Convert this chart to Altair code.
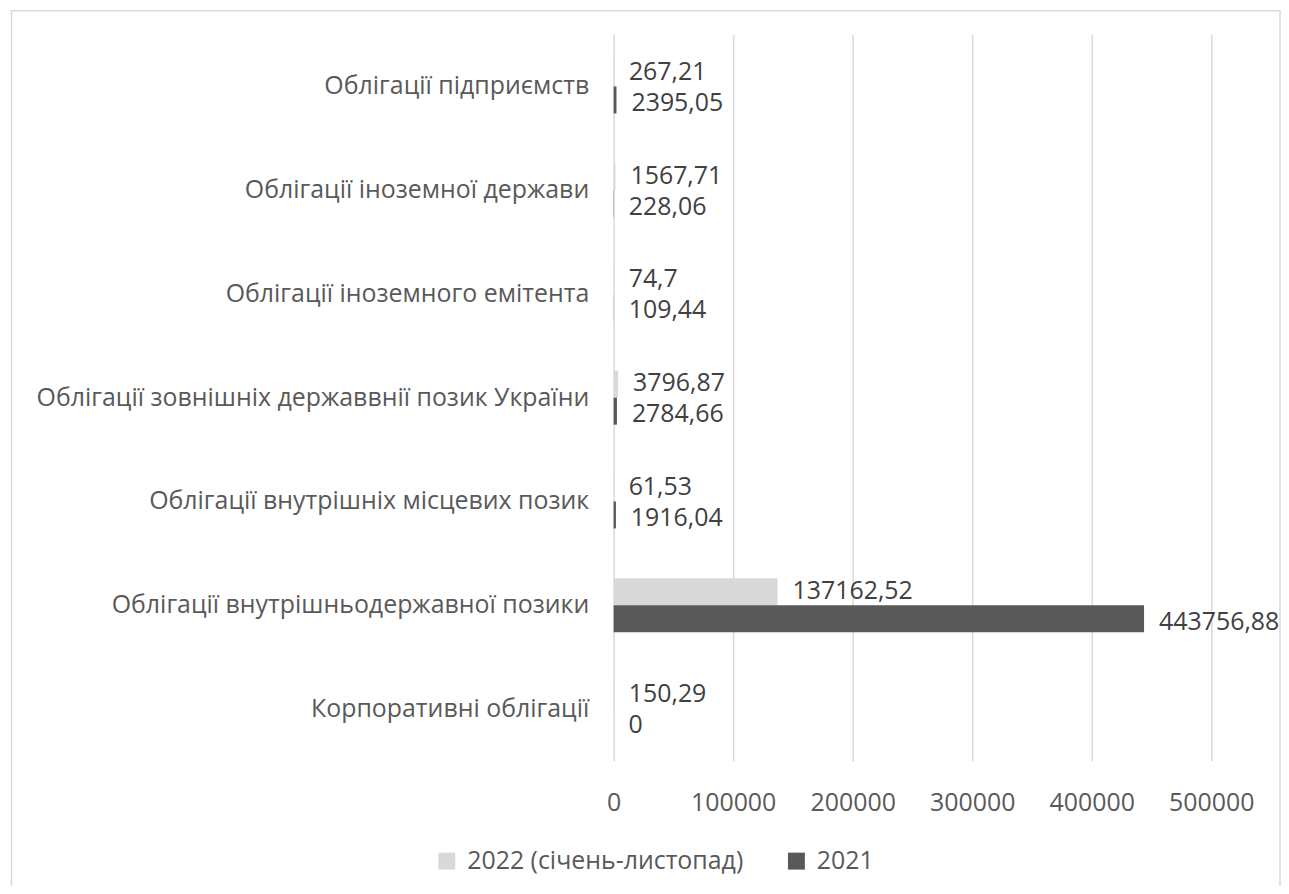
import altair as alt
import pandas as pd

categories = [
    "Облігації підприємств",
    "Облігації іноземної держави",
    "Облігації іноземного емітента",
    "Облігації зовнішніх державвнії позик України",
    "Облігації внутрішніх місцевих позик",
    "Облігації внутрішньодержавної позики",
    "Корпоративні облігації",
]
series = ["2022 (січень-листопад)", "2021"]
values_2022 = [267.21, 1567.71, 74.7, 3796.87, 61.53, 137162.52, 150.29]
values_2021 = [2395.05, 228.06, 109.44, 2784.66, 1916.04, 443756.88, 0]
colors = ["#d9d9d9", "#595959"]
x_ticks = [0, 100000, 200000, 300000, 400000, 500000]

rows = []
for c, a, b in zip(categories, values_2022, values_2021):
    rows.append({"cat": c, "series": series[0], "value": a, "label": str(a).replace(".", ",")})
    rows.append({"cat": c, "series": series[1], "value": b, "label": str(b).replace(".", ",")})
df = pd.DataFrame(rows)

FONT = "Open Sans"
FS = 25

y_enc = alt.Y("cat:N", sort=categories, title=None,
              scale=alt.Scale(paddingInner=0.48, paddingOuter=0.24),
              axis=alt.Axis(labelFontSize=FS, labelColor="#595959", labelFont=FONT,
                            labelPadding=25, ticks=False, domain=False, grid=False,
                            labelLimit=700))
yoff = alt.YOffset("series:N", sort=series)
x_enc = alt.X("value:Q", title=None,
              scale=alt.Scale(domain=[0, 500000], nice=False),
              axis=alt.Axis(values=x_ticks, format="d", labelFontSize=FS, labelColor="#595959",
                            labelFont=FONT, labelPadding=30, ticks=False, domain=False,
                            labelOverlap=False, labelFlush=False,
                            grid=True, gridColor="#d9d9d9", gridWidth=1.5))

base = alt.Chart(df)

bars = base.mark_bar().encode(
    y=y_enc, yOffset=yoff, x=x_enc,
    color=alt.Color("series:N", sort=series, title=None,
                    scale=alt.Scale(domain=series, range=colors),
                    legend=alt.Legend(orient="none", legendX=-180, legendY=817,
                                      direction="horizontal", symbolType="square",
                                      symbolSize=289, symbolStrokeWidth=0,
                                      labelFontSize=FS, labelColor="#595959", labelFont=FONT,
                                      labelOffset=8, columnPadding=40, labelLimit=500)),
)

def label_layer(name, dy):
    return base.transform_filter(alt.datum.series == name).mark_text(
        align="left", baseline="middle", dx=15, dy=dy, fontSize=FS,
        color="#404040", font=FONT
    ).encode(
        y=alt.Y("cat:N", sort=categories), yOffset=yoff, x="value:Q", text="label:N",
    )

labels_2022 = label_layer(series[0], -1)
labels_2021 = label_layer(series[1], 3)

border = alt.Chart(alt.Data(values=[{"a": 1}])).mark_rect(
    fillOpacity=0, stroke="#d9d9d9", strokeWidth=1.5
).encode(x=alt.value(-604.5), x2=alt.value(669), y=alt.value(-24), y2=alt.value(900))

chart = alt.layer(border, bars, labels_2022, labels_2021).properties(
    width=600, height=729,
    autosize=alt.AutoSizeParams(type="none"),
    padding={"left": 608, "top": 25, "right": 70, "bottom": 124},
).configure_view(stroke=None)

chart.save("out.html", embed_options={"renderer": "svg", "actions": False})
